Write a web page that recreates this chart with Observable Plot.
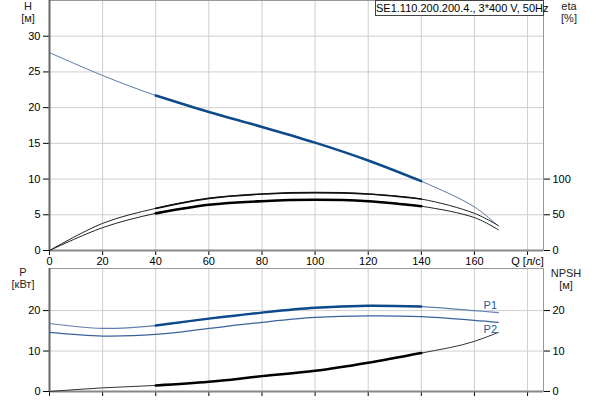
<!DOCTYPE html>
<html><head><meta charset="utf-8">
<script src="https://cdn.jsdelivr.net/npm/d3@7"></script>
<script src="https://cdn.jsdelivr.net/npm/@observablehq/plot@0.6"></script>
<style>
body{margin:0;background:#fff;font-family:"Liberation Sans",Arial,sans-serif;}
#wrap{position:relative;width:600px;height:400px;overflow:hidden;background:#fff;}
.lbl{position:absolute;font-size:11px;color:#222;text-align:center;line-height:12px;width:50px;}
#topChart,#botChart{position:absolute;left:0;}
#topChart{top:0;} #botChart{top:255px;}
#legend{position:absolute;left:375px;top:0;width:167px;height:14px;border:1px solid #444;font-size:11px;line-height:14px;text-align:center;background:#fff;color:#000;white-space:nowrap;}
</style></head>
<body><div id="wrap">
<div id="topChart"></div><div id="botChart"></div>
<div class="lbl" style="left:3px;top:0px">H<br>[м]</div>
<div class="lbl" style="left:544px;top:0px">eta<br>[%]</div>
<div class="lbl" style="left:-2px;top:266px">P<br>[кВт]</div>
<div class="lbl" style="left:541px;top:267px">NPSH<br>[м]</div>
<div id="legend"></div>
</div>
<script>
const Q        = [0, 20, 40, 60, 80, 100, 120, 140, 160, 169];
const H        = [27.7, 24.5, 21.7, 19.4, 17.3, 15.1, 12.6, 9.7, 6.1, 3.4];
const etaUpper = [0, 38, 59, 73, 79, 81, 79, 72, 52, 35];
const etaLower = [0, 32, 52, 64, 69, 71, 69, 62, 46, 29];
const P1       = [16.8, 15.6, 16.3, 18.0, 19.5, 20.7, 21.2, 21.0, 20.0, 19.5];
const P2       = [14.6, 13.7, 14.1, 15.6, 17.1, 18.3, 18.7, 18.5, 17.6, 17.1];
const NPSH     = [0, 0.9, 1.5, 2.4, 3.8, 5.1, 7.1, 9.5, 12.4, 14.6];
const xTicks   = [0, 20, 40, 60, 80, 100, 120, 140, 160, 180];
const xTitle   = "Q [л/с]";
const hTicks   = [0, 5, 10, 15, 20, 25, 30];
const etaTicks = [0, 50, 100];
const pTicks   = [0, 10, 20];
const npshTicks= [0, 10, 20];
const legendText = "SE1.110.200.200.4., 3*400 V, 50Hz";
const dutyRange = [40, 140];

document.getElementById("legend").textContent = legendText;

const rows = Q.map((q, i) => ({q, h: H[i], e1: etaUpper[i] / 10, e2: etaLower[i] / 10, p1: P1[i], p2: P2[i], n: NPSH[i]}));
const duty = rows.filter(d => d.q >= dutyRange[0] && d.q <= dutyRange[1]);
const font = {fontFamily: "'Liberation Sans', Arial, sans-serif", fontSize: "11px", color: "#000", background: "transparent", overflow: "visible"};
const xDomain = [0, 186];
const grid = "#cfcfcf";
const curve = "catmull-rom";

const topPlot = Plot.plot({
  width: 600, height: 270, marginLeft: 49, marginRight: 57, marginTop: 0, marginBottom: 20,
  style: font,
  x: {domain: xDomain}, y: {domain: [0, 35]},
  marks: [
    Plot.gridX(xTicks, {stroke: grid, strokeOpacity: 1}),
    Plot.gridY(hTicks, {stroke: grid, strokeOpacity: 1}),
    Plot.frame({stroke: "#999"}),
    Plot.axisX(xTicks, {tickSize: 5, tickPadding: 2, label: null, tickFormat: d => d === 180 ? xTitle : d}),
    Plot.axisY(hTicks, {anchor: "left", tickSize: 6, tickPadding: 3, label: null}),
    Plot.axisY(etaTicks.map(d => d / 10), {anchor: "right", tickSize: 6, tickPadding: 3, label: null, tickFormat: d => Math.round(d * 10)}),
    Plot.ruleX([0], {stroke: "#666", strokeWidth: 2}),
    Plot.ruleY([0], {stroke: "#888", strokeWidth: 2}),
    Plot.line(rows, {x: "q", y: "h", stroke: "#5a78a8", strokeWidth: 1, curve}),
    Plot.line(duty, {x: "q", y: "h", stroke: "#0d4a8a", strokeWidth: 2.5, curve}),
    Plot.line(rows, {x: "q", y: "e1", stroke: "#222", strokeWidth: 1, curve}),
    Plot.line(duty, {x: "q", y: "e1", stroke: "#111", strokeWidth: 1.6, curve}),
    Plot.line(rows, {x: "q", y: "e2", stroke: "#222", strokeWidth: 1, curve}),
    Plot.line(duty, {x: "q", y: "e2", stroke: "#000", strokeWidth: 2.6, curve})
  ]
});
document.getElementById("topChart").append(topPlot);

const botPlot = Plot.plot({
  width: 600, height: 145, marginLeft: 49, marginRight: 57, marginTop: 13, marginBottom: 9,
  style: font,
  x: {domain: xDomain}, y: {domain: [0, 30.4]},
  marks: [
    Plot.gridX(xTicks, {stroke: grid, strokeOpacity: 1}),
    Plot.gridY(pTicks, {stroke: grid, strokeOpacity: 1}),
    Plot.frame({stroke: "#999"}),
    Plot.axisX(xTicks, {tickSize: 5, label: null, tickFormat: () => ""}),
    Plot.axisY(pTicks, {anchor: "left", tickSize: 6, tickPadding: 3, label: null}),
    Plot.axisY(npshTicks, {anchor: "right", tickSize: 6, tickPadding: 3, label: null}),
    Plot.ruleX([0], {stroke: "#666", strokeWidth: 2}),
    Plot.ruleY([0], {stroke: "#888", strokeWidth: 2}),
    Plot.line(rows, {x: "q", y: "p1", stroke: "#5f7fae", strokeWidth: 1.2, curve}),
    Plot.line(duty, {x: "q", y: "p1", stroke: "#0d4a8a", strokeWidth: 2.4, curve}),
    Plot.line(rows, {x: "q", y: "p2", stroke: "#3a6399", strokeWidth: 1.2, curve}),
    Plot.line(rows, {x: "q", y: "n", stroke: "#333", strokeWidth: 1, curve: "monotone-x"}),
    Plot.line(duty, {x: "q", y: "n", stroke: "#000", strokeWidth: 2.5, curve: "monotone-x"}),
    Plot.text(rows.slice(-1), {x: "q", y: "p1", text: () => "P1", dx: -8, dy: -7, fill: "#1f5a99", fontSize: 11}),
    Plot.text(rows.slice(-1), {x: "q", y: "p2", text: () => "P2", dx: -8, dy: 7, fill: "#1f5a99", fontSize: 11})
  ]
});
document.getElementById("botChart").append(botPlot);
</script>
</body></html>
